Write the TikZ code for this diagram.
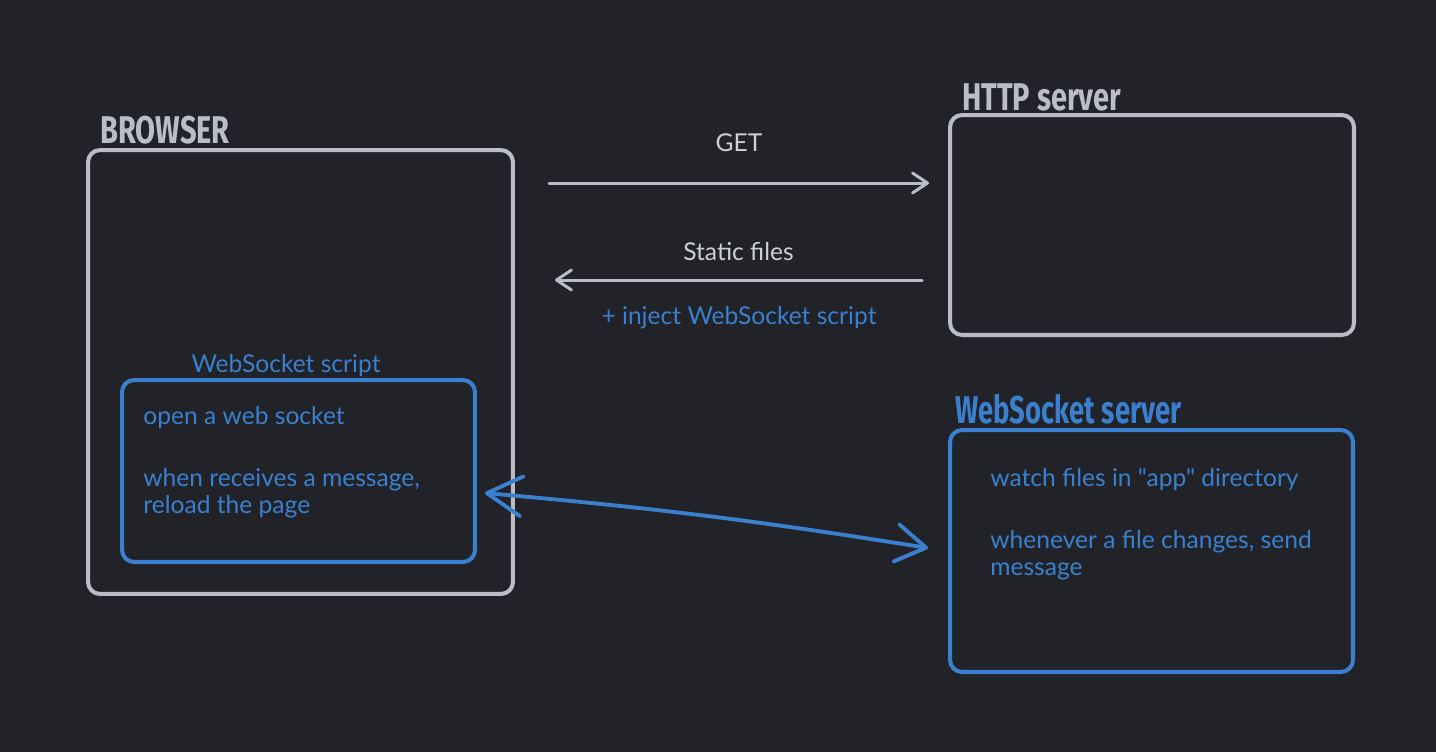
\documentclass[tikz,border=0pt]{standalone}
\usepackage{fontspec}
\usepackage{graphicx}
\setmainfont{Lato}
\newfontfamily\quotefont{Lato}[Ligatures=TeXOff]
\newfontfamily\handfont{Fira Sans}
\usetikzlibrary{arrows.meta}
\definecolor{bgdark}{RGB}{33,35,40}
\definecolor{lightgrey}{RGB}{186,190,196}
\definecolor{textgrey}{RGB}{205,208,212}
\definecolor{wsblue}{RGB}{58,128,206}

\begin{document}
\begin{tikzpicture}[x=0.02cm, y=-0.02cm,
    box/.style={draw=lightgrey, line width=2.3pt, rounded corners=0.24cm, inner sep=0pt},
    bluebox/.style={box, draw=wsblue},
    title/.style={anchor=base west, inner sep=0pt, text=lightgrey, font=\handfont\bfseries\fontsize{22}{26}\selectfont},
    txt/.style={inner sep=0pt, text=textgrey, font=\fontsize{14}{15.3}\selectfont},
    bluetxt/.style={txt, text=wsblue, align=left, anchor=west},
    flow/.style={draw=lightgrey, line width=1.7pt, line cap=round, -{Straight Barb[length=0.3cm, width=0.4cm, round]}}]
  \fill[bgdark] (0,0) rectangle (1436,752);
  \useasboundingbox (0,0) rectangle (1436,752);

  \node[box, minimum width=8.5cm, minimum height=8.88cm] (browser) at (300.5,372) {};
  \node[box, minimum width=8.08cm, minimum height=4.4cm] (http) at (1152,225) {};
  \node[bluebox, minimum width=8.06cm, minimum height=4.84cm] (wsserver) at (1151.5,551) {};
  \node[bluebox, minimum width=7.06cm, minimum height=3.64cm] (wsscript) at (298.5,471) {};

  \node[title] (browser-title) at (100,143) {\scalebox{0.75}[1]{BROWSER}};
  \node[title] (http-title) at (962,110) {\scalebox{0.75}[1]{HTTP server}};
  \node[title, text=wsblue] (ws-title) at (955,423) {\scalebox{0.71}[1]{WebSocket server}};

  \node[txt, text=wsblue] (script-title) at (286,366) {WebSocket script};
  \node[bluetxt] (open) at (143,418) {open a web socket};
  \node[bluetxt] (reload) at (143,493.5) {when receives a message,\\reload the page};
  \node[bluetxt, font=\quotefont\fontsize{14}{15.3}\selectfont] (watch) at (990,480) {watch files in "app" directory};
  \node[bluetxt] (send) at (990,555) {whenever a file changes, send\\message};

  \coordinate (get-from) at (549,183);
  \coordinate (get-to) at (929,183);
  \coordinate (static-from) at (922,280);
  \coordinate (static-to) at (555,280);
  \coordinate (ws-left) at (485,493);
  \coordinate (ws-right) at (928,548);

  \draw[flow] (get-from) -- (get-to) node[txt, midway, yshift=0.8cm] (get) {GET};
  \draw[flow] (static-from) -- (static-to) node[txt, midway, yshift=0.56cm] (static) {Static files};
  \node[txt, text=wsblue] (inject) at (739,318) {+ inject WebSocket script};

  \draw[wsblue, line width=2.2pt, line cap=round, {Straight Barb[length=0.7cm, width=0.8cm, round]}-{Straight Barb[length=0.6cm, width=0.75cm, round]}] (ws-left) to[bend left=2] (ws-right);
\end{tikzpicture}
\end{document}
